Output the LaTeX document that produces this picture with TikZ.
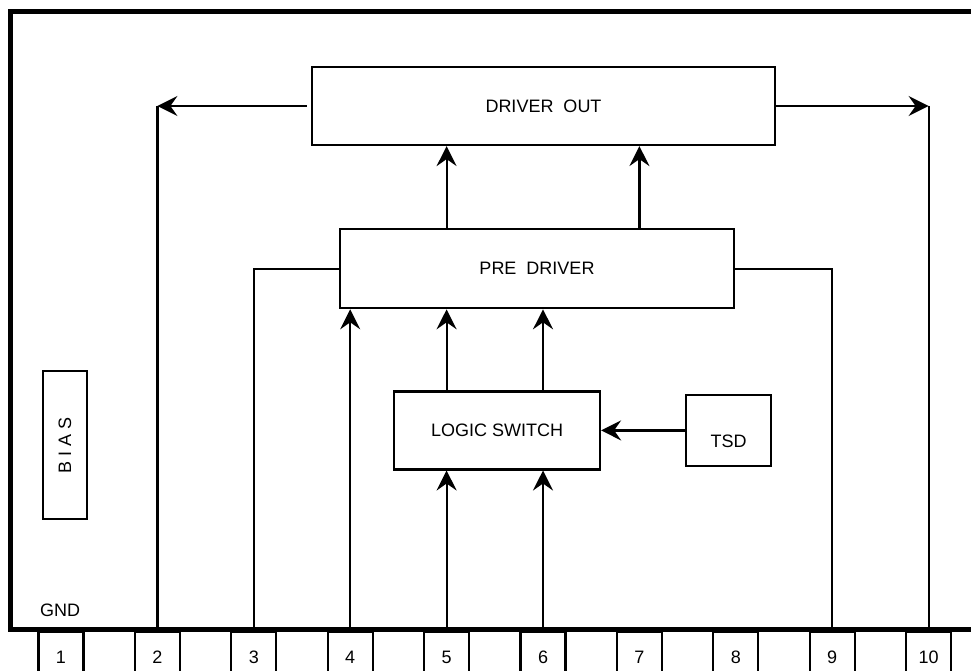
\documentclass[tikz,border=0pt]{standalone}
\usepackage{fontspec}
\setmainfont{Liberation Sans}
\usetikzlibrary{positioning, arrows.meta}
\tikzset{%
  every block/.style={
    rectangle,
    draw,
    line width=2.2pt,
    inner sep=0pt
  },
  every pinbox/.style={
    rectangle,
    draw,
    line width=2.2pt,
    minimum width=45pt,
    minimum height=50pt,
    inner sep=0pt
  }
}

\begin{document}
\begin{tikzpicture}[x=1pt, y=-1pt, >={Stealth[length=20pt, width=20pt, inset=7pt]},
  font=\fontsize{18}{22}\selectfont, line width=2.2pt]
		\useasboundingbox (0,0) rectangle (971,671);
		%% package outline
		\draw[line width=5pt] (990,11.5) -| (10,629) -- (990,629);
		%% pins
		\foreach \i in {1,...,10}
			\node[every pinbox] (p\i) at ({61+(\i-1)*96.4}, 657) {\i};
		\node (gnd) at (60,610) {GND};
		%% blocks
		\node[every block, minimum width=463pt, minimum height=78pt] (dout) at (543.5,106) {DRIVER\ \ OUT};
		\node[every block, minimum width=394pt, minimum height=79pt, xshift=-6.5pt, below=82pt of dout] (predrv) {PRE\ \ DRIVER};
		\node[every block, minimum width=206pt, minimum height=78pt, xshift=-40pt, below=81pt of predrv] (logic) {LOGIC SWITCH};
		\node[every block, minimum width=85pt, minimum height=71pt, text height=34pt, text depth=0pt, right=84pt of logic] (tsd) {TSD};
		\node[every block, minimum width=44pt, minimum height=148pt] (bias) at (65,445) {};
		\node[rotate=90] (biastxt) at (bias) {B I A S};
		%% driver out to pins 2 and 10
		\draw[->] ([xshift=-4pt]dout.west) -- (dout.west -| p2);
		\draw (dout.west -| p2) -- (p2.north);
		\draw[->] (dout.east) -- (dout.east -| p10);
		\draw (dout.east -| p10) -- (p10.north);
		%% pre driver to pins 3 and 9
		\draw (p3.north) |- (predrv.west);
		\draw (p9.north) |- (predrv.east);
		%% pre driver to driver out
		\draw[->] (predrv.north -| p5) -- (dout.south -| p5);
		\draw[->] (predrv.north -| p7) -- (dout.south -| p7);
		%% inputs of pre driver
		\draw[->] (p4.north) -- (predrv.south -| p4);
		\draw[->] (logic.north -| p5) -- (predrv.south -| p5);
		\draw[->] (logic.north -| p6) -- (predrv.south -| p6);
		%% inputs of logic switch
		\draw[->] (p5.north) -- (logic.south -| p5);
		\draw[->] (p6.north) -- (logic.south -| p6);
		\draw[->] (tsd.west) -- (logic.east);
\end{tikzpicture}
\end{document}
